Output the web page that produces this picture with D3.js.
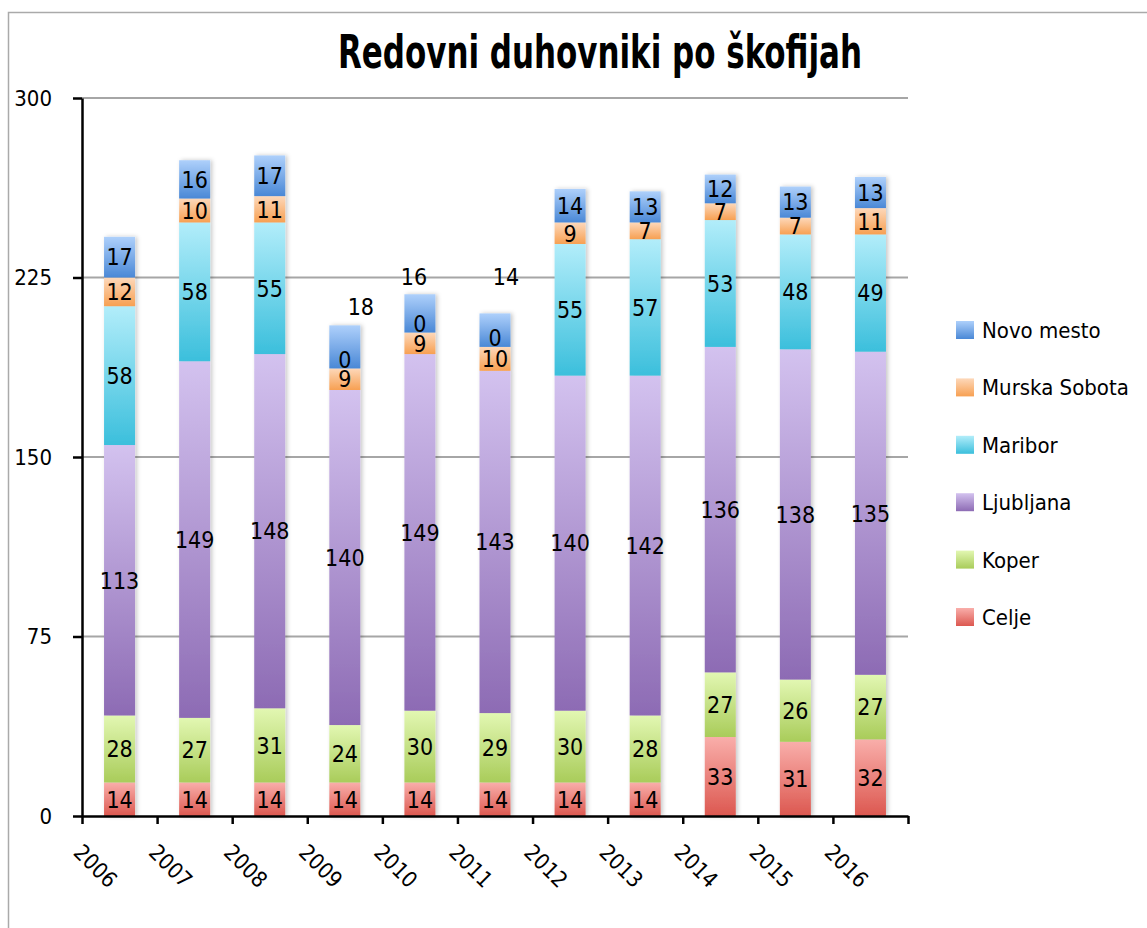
<!DOCTYPE html>
<html>
<head>
<meta charset="utf-8">
<script src="https://cdn.jsdelivr.net/npm/d3@7"></script>
<style>
  html, body { margin: 0; padding: 0; background: #fff; }
  svg text { font-family: 'DejaVu Sans Condensed', 'DejaVu Sans', sans-serif; font-stretch: condensed; fill: #000; }
</style>
</head>
<body>
<div id="chart"></div>
<script>
// Podatki
const years = ['2006', '2007', '2008', '2009', '2010', '2011', '2012', '2013', '2014', '2015', '2016'];
const seriesNames = ['Celje', 'Koper', 'Ljubljana', 'Maribor', 'Murska Sobota', 'Novo mesto'];
const celje = [14, 14, 14, 14, 14, 14, 14, 14, 33, 31, 32];
const koper = [28, 27, 31, 24, 30, 29, 30, 28, 27, 26, 27];
const ljubljana = [113, 149, 148, 140, 149, 143, 140, 142, 136, 138, 135];
const maribor = [58, 58, 55, 0, 0, 0, 55, 57, 53, 48, 49];
const murskaSobota = [12, 10, 11, 9, 9, 10, 9, 7, 7, 7, 11];
const novoMesto = [17, 16, 17, 18, 16, 14, 14, 13, 12, 13, 13];
const yTicks = [0, 75, 150, 225, 300];

const seriesValues = [celje, koper, ljubljana, maribor, murskaSobota, novoMesto];
const colors = [
  ['#f9aeaa', '#dc5850'],
  ['#e2f7b2', '#a9cc5a'],
  ['#d3c2ef', '#8d6bb4'],
  ['#b2edfa', '#3bbfdc'],
  ['#fdd8ba', '#f7a052'],
  ['#aed0fb', '#4a88d6']
];

const width = 1147, height = 928;
const margin = { top: 98, right: 239, bottom: 112, left: 82 };

const svg = d3.select('#chart').append('svg')
  .attr('width', width)
  .attr('height', height);

// Gradienti
const defs = svg.append('defs');
colors.forEach((c, i) => {
  const g = defs.append('linearGradient')
    .attr('id', 'grad' + i)
    .attr('x1', 0).attr('y1', 0).attr('x2', 0).attr('y2', 1);
  g.append('stop').attr('offset', '0%').attr('stop-color', c[0]);
  g.append('stop').attr('offset', '100%').attr('stop-color', c[1]);
});
const shadow = defs.append('filter').attr('id', 'shadow')
  .attr('x', '-30%').attr('y', '-10%').attr('width', '160%').attr('height', '120%');
shadow.append('feDropShadow')
  .attr('dx', 2).attr('dy', 0).attr('stdDeviation', 2)
  .attr('flood-color', '#000').attr('flood-opacity', 0.22);

// Okvir
svg.append('rect')
  .attr('x', 8.5).attr('y', 12.5)
  .attr('width', width + 20).attr('height', height + 20)
  .attr('fill', 'none')
  .attr('stroke', '#aaa')
  .attr('stroke-width', 1.5);

// Naslov
svg.append('text')
  .attr('x', 600)
  .attr('y', 68)
  .attr('text-anchor', 'middle')
  .attr('font-size', 46)
  .attr('font-weight', 700)
  .attr('textLength', 524)
  .attr('lengthAdjust', 'spacingAndGlyphs')
  .text('Redovni duhovniki po škofijah');

const innerW = width - margin.left - margin.right;
const x = d3.scaleBand()
  .domain(years)
  .range([margin.left, margin.left + innerW])
  .paddingInner(0.587)
  .paddingOuter(0.2935);
const xIdx = d3.scaleLinear()
  .domain([0, years.length])
  .range([margin.left, margin.left + innerW]);
const y = d3.scaleLinear()
  .domain([0, 300])
  .range([height - margin.bottom, margin.top]);

// Mreža
svg.append('g')
  .selectAll('line')
  .data(yTicks.filter(d => d > 0))
  .enter().append('line')
  .attr('x1', margin.left)
  .attr('x2', margin.left + innerW)
  .attr('y1', d => y(d))
  .attr('y2', d => y(d))
  .attr('stroke', '#a6a6a6')
  .attr('stroke-width', 2);

// Stolpci
const table = years.map((yr, i) => {
  const row = { year: yr };
  seriesNames.forEach((s, k) => { row[s] = seriesValues[k][i]; });
  return row;
});
const stacked = d3.stack().keys(seriesNames)(table);

const bars = svg.append('g').attr('filter', 'url(#shadow)');
stacked.forEach((ser, k) => {
  bars.selectAll('.s' + k)
    .data(ser.filter(d => d[1] > d[0]))
    .enter().append('rect')
    .attr('class', 's' + k)
    .attr('x', d => x(d.data.year))
    .attr('width', x.bandwidth())
    .attr('y', d => y(d[1]))
    .attr('height', d => y(d[0]) - y(d[1]))
    .attr('fill', 'url(#grad' + k + ')');
});

// Osi
const yAxis = svg.append('g')
  .attr('transform', `translate(${margin.left},0)`)
  .call(d3.axisLeft(y).tickValues(yTicks).tickSize(9).tickPadding(21).tickSizeOuter(0));
yAxis.select('.domain').attr('stroke', '#000').attr('stroke-width', 2.5);
yAxis.selectAll('.tick line').attr('stroke', '#000').attr('stroke-width', 2.5);
yAxis.selectAll('.tick text').attr('font-size', 22);

const xAxis = svg.append('g')
  .attr('transform', `translate(0,${y(0)})`)
  .call(d3.axisBottom(xIdx).tickValues(d3.range(years.length + 1)).tickSize(8).tickFormat('').tickSizeOuter(0));
xAxis.select('.domain').attr('stroke', '#000').attr('stroke-width', 2.5);
xAxis.selectAll('.tick line').attr('stroke', '#000').attr('stroke-width', 2.5);
svg.selectAll('.domain, .tick text').attr('font-family', null);

// Oznake let
svg.append('g')
  .selectAll('text')
  .data(years)
  .enter().append('text')
  .attr('transform', d => `translate(${x(d) + x.bandwidth() / 2 - 24},866) rotate(45)`)
  .attr('text-anchor', 'middle')
  .attr('dy', '0.35em')
  .attr('font-size', 22)
  .text(d => d);

// Oznake vrednosti (Excel je nekatere premaknil iz stolpca)
const outside = { '2009': [16, -19], '2010': [-6, -18], '2011': [11, -37] };
const msIndex = seriesNames.indexOf('Murska Sobota');
const labels = svg.append('g');
stacked.forEach((ser, k) => {
  ser.forEach((d, i) => {
    const yr = d.data.year;
    const v = d[1] - d[0];
    let cx = x(yr) + x.bandwidth() / 2;
    let cy = (y(d[0]) + y(d[1])) / 2;
    // ničelna oznaka sedi nad segmentom Murska Sobota
    if (v === 0) cy = y(stacked[msIndex][i][1]) - 9;
    if (seriesNames[k] === 'Novo mesto' && outside[yr]) {
      cx += outside[yr][0];
      cy = y(d[1]) + outside[yr][1];
    }
    labels.append('text')
      .attr('x', cx)
      .attr('y', cy)
      .attr('dy', '0.36em')
      .attr('text-anchor', 'middle')
      .attr('font-size', 23)
      .text(v);
  });
});

// Legenda
const legendNames = seriesNames.slice().reverse();
const legend = svg.append('g')
  .selectAll('g')
  .data(legendNames)
  .enter().append('g')
  .attr('transform', (d, i) => `translate(956,${330 + i * 57.4})`);
legend.append('rect')
  .attr('x', 0).attr('y', -9)
  .attr('width', 18).attr('height', 18)
  .attr('fill', d => 'url(#grad' + seriesNames.indexOf(d) + ')');
legend.append('text')
  .attr('x', 26)
  .attr('dy', '0.36em')
  .attr('font-size', 22)
  .text(d => d);
</script>
</body>
</html>
